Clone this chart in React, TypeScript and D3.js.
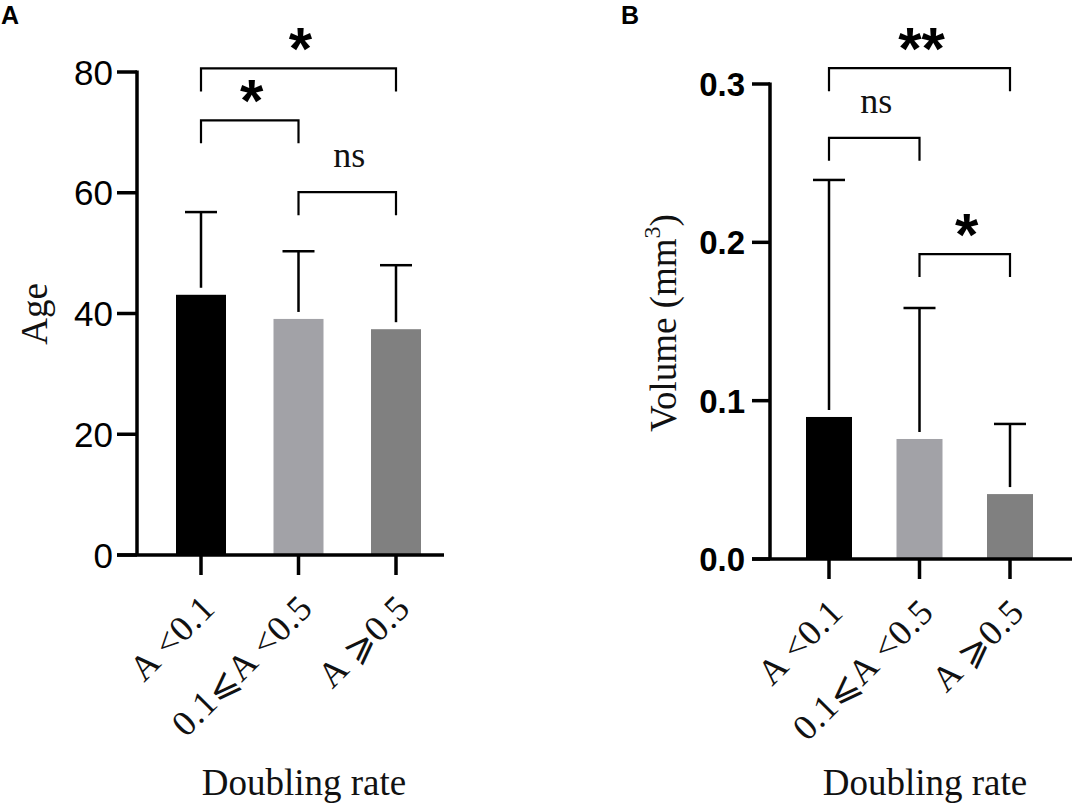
import React, { useRef, useEffect } from 'react';
import * as d3 from 'd3';

// Groups on the x axis (same for both panels)
const categories = ['A <0.1', '0.1⩽A <0.5', 'A ⩾0.5'];
const barColors = ['#000000', '#a2a2a7', '#808080'];

// Panel A: age
const ageMeans = [43.1, 39.1, 37.4];
const ageUpper = [56.8, 50.3, 48.0];
const ageTicks = [0, 20, 40, 60, 80];
const ageBrackets = [
  { from: 0, to: 2, y: 80.6, label: '*' },
  { from: 0, to: 1, y: 72.0, label: '*' },
  { from: 1, to: 2, y: 60.1, label: 'ns' },
];

// Panel B: volume
const volumeMeans = [0.0897, 0.0758, 0.041];
const volumeUpper = [0.2394, 0.1586, 0.0853];
const volumeTicks = [0, 0.1, 0.2, 0.3];
const volumeBrackets = [
  { from: 0, to: 2, y: 0.31, label: '**' },
  { from: 0, to: 1, y: 0.266, label: 'ns' },
  { from: 1, to: 2, y: 0.1926, label: '*' },
];

interface Bracket { from: number; to: number; y: number; label: string }

interface PanelSpec {
  letter: string;
  letterX: number;
  means: number[];
  upper: number[];
  ticks: number[];
  brackets: Bracket[];
  yMax: number;
  axisX: number;
  yTop: number;
  yBase: number;
  xFirst: number;
  xLast: number;
  xEnd: number;
  barWidth: number;
  tickFormat: (n: number) => string;
  tickWeight: string;
  tickSize: number;
  tickLen: number;
  tickGap: number;
  yLabel: string;
  yLabelX: number;
  yLabelY: number;
  titleX: number;
}

const serif = '"Liberation Serif", "Times New Roman", "DejaVu Serif", serif';
const sans = '"Liberation Sans", Arial, sans-serif';

function drawPanel(svg: d3.Selection<SVGSVGElement, unknown, null, undefined>, p: PanelSpec) {
  const g = svg.append('g');

  const y = d3.scaleLinear().domain([0, p.yMax]).range([p.yBase, p.yTop]);
  const x = d3.scalePoint<string>().domain(categories).range([p.xFirst, p.xLast]);

  // panel letter
  g.append('text')
    .attr('x', p.letterX)
    .attr('y', 24)
    .attr('font-family', sans)
    .attr('font-weight', 'bold')
    .attr('font-size', 25)
    .text(p.letter);

  // bars
  g.selectAll('.bar')
    .data(p.means)
    .enter()
    .append('rect')
    .attr('x', (_, i) => (x(categories[i]) as number) - p.barWidth / 2)
    .attr('y', d => y(d))
    .attr('width', p.barWidth)
    .attr('height', d => p.yBase - y(d))
    .attr('fill', (_, i) => barColors[i]);

  // error bars (upper only)
  p.upper.forEach((u, i) => {
    const cx = x(categories[i]) as number;
    g.append('line')
      .attr('x1', cx).attr('x2', cx)
      .attr('y1', y(p.means[i]) - 7).attr('y2', y(u))
      .attr('stroke', '#000').attr('stroke-width', 2.5);
    g.append('line')
      .attr('x1', cx - 16).attr('x2', cx + 16)
      .attr('y1', y(u)).attr('y2', y(u))
      .attr('stroke', '#000').attr('stroke-width', 2.5);
  });

  // y axis
  g.append('line')
    .attr('x1', p.axisX).attr('x2', p.axisX)
    .attr('y1', p.yTop - 1.5).attr('y2', p.yBase)
    .attr('stroke', '#000').attr('stroke-width', 3.5);

  p.ticks.forEach(t => {
    g.append('line')
      .attr('x1', p.axisX - p.tickLen).attr('x2', p.axisX)
      .attr('y1', y(t)).attr('y2', y(t))
      .attr('stroke', '#000').attr('stroke-width', 3.5);
    g.append('text')
      .attr('x', p.axisX - p.tickLen - p.tickGap)
      .attr('y', y(t))
      .attr('dy', '0.36em')
      .attr('text-anchor', 'end')
      .attr('font-family', sans)
      .attr('font-weight', p.tickWeight)
      .attr('font-size', p.tickSize)
      .text(p.tickFormat(t));
  });

  // x axis
  g.append('line')
    .attr('x1', p.axisX - p.tickLen).attr('x2', p.xEnd)
    .attr('y1', p.yBase).attr('y2', p.yBase)
    .attr('stroke', '#000').attr('stroke-width', 3.5);

  categories.forEach(c => {
    const cx = x(c) as number;
    g.append('line')
      .attr('x1', cx).attr('x2', cx)
      .attr('y1', p.yBase).attr('y2', p.yBase + 20)
      .attr('stroke', '#000').attr('stroke-width', 3.5);
    g.append('text')
      .attr('transform', `translate(${cx + 16}, ${p.yBase + 55}) rotate(-45)`)
      .attr('text-anchor', 'end')
      .attr('font-family', serif)
      .attr('font-size', 36)
      .attr('letter-spacing', 0.8)
      .attr('fill', '#111')
      .text(c);
  });

  // significance brackets
  p.brackets.forEach(b => {
    const x1 = x(categories[b.from]) as number;
    const x2 = x(categories[b.to]) as number;
    const by = y(b.y);
    g.append('path')
      .attr('d', `M${x1},${by + 23}V${by}H${x2}V${by + 23}`)
      .attr('fill', 'none')
      .attr('stroke', '#000')
      .attr('stroke-width', 2.2);
    const mid = (x1 + x2) / 2 + 2;
    const cy = by - 33;
    if (b.label === 'ns') {
      g.append('text')
        .attr('x', mid).attr('y', cy + 8)
        .attr('text-anchor', 'middle')
        .attr('font-family', serif)
        .attr('font-size', 36)
        .attr('fill', '#111')
        .text(b.label);
    } else {
      g.append('text')
        .attr('x', mid).attr('y', cy + 34)
        .attr('text-anchor', 'middle')
        .attr('font-family', sans)
        .attr('font-weight', 'bold')
        .attr('font-size', 60)
        .text(b.label);
    }
  });

  // axis titles
  const yl = g.append('text')
    .attr('transform', `translate(${p.yLabelX}, ${p.yLabelY}) rotate(-90)`)
    .attr('text-anchor', 'middle')
    .attr('font-family', serif)
    .attr('font-size', 37)
    .attr('fill', '#111');
  if (p.yLabel === 'Volume') {
    yl.append('tspan').text('Volume (mm');
    yl.append('tspan').attr('dy', -16).attr('font-size', 24).text('3');
    yl.append('tspan').attr('dy', 16).text(')');
  } else {
    yl.text(p.yLabel);
  }

  g.append('text')
    .attr('x', p.titleX)
    .attr('y', 795)
    .attr('text-anchor', 'middle')
    .attr('font-family', serif)
    .attr('font-size', 37)
    .attr('fill', '#111')
    .text('Doubling rate');
}

const App: React.FC = () => {
  const svgRef = useRef<SVGSVGElement>(null);

  useEffect(() => {
    const svg = d3.select(svgRef.current as SVGSVGElement);
    svg.selectAll('*').remove();

    drawPanel(svg, {
      letter: 'A', letterX: 1,
      means: ageMeans, upper: ageUpper, ticks: ageTicks, brackets: ageBrackets,
      yMax: 80, axisX: 137, yTop: 72, yBase: 555,
      xFirst: 201, xLast: 396, xEnd: 444, barWidth: 50,
      tickFormat: d3.format('d'), tickWeight: 'normal', tickSize: 35, tickLen: 20, tickGap: 4,
      yLabel: 'Age', yLabelX: 47, yLabelY: 314, titleX: 304,
    });

    drawPanel(svg, {
      letter: 'B', letterX: 621,
      means: volumeMeans, upper: volumeUpper, ticks: volumeTicks, brackets: volumeBrackets,
      yMax: 0.3, axisX: 770, yTop: 84, yBase: 559,
      xFirst: 829, xLast: 1010, xEnd: 1072, barWidth: 46,
      tickFormat: d3.format('.1f'), tickWeight: 'bold', tickSize: 33, tickLen: 18, tickGap: 7,
      yLabel: 'Volume', yLabelX: 676, yLabelY: 323, titleX: 925,
    });
  }, []);

  return (
    <div style={{ position: 'absolute', left: 0, top: 0 }}>
      <svg ref={svgRef} width={1077} height={810} style={{ display: 'block', background: '#fff' }} />
    </div>
  );
};

export default App;
